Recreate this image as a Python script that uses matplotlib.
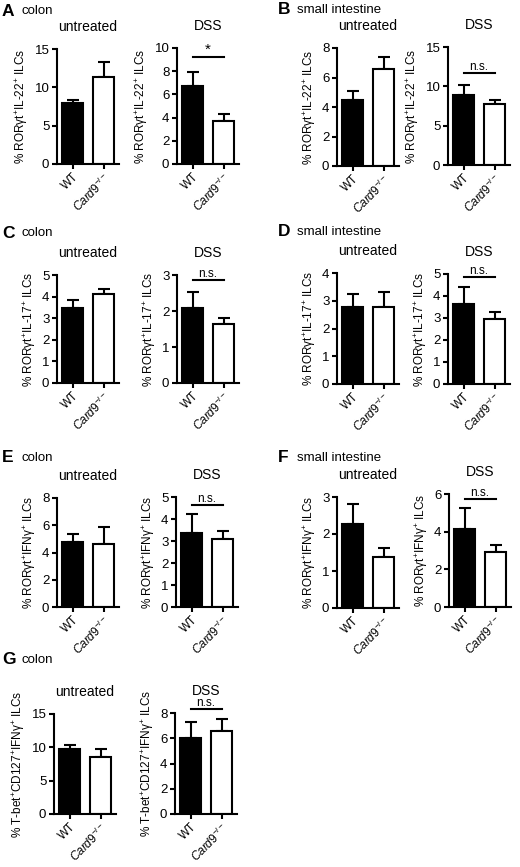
import matplotlib
matplotlib.use("Agg")
import matplotlib.pyplot as plt
import numpy as np

plt.rcParams['font.family'] = ['Liberation Sans', 'DejaVu Sans']
plt.rcParams['mathtext.fontset'] = 'custom'
plt.rcParams['mathtext.rm'] = 'Liberation Sans'
plt.rcParams['mathtext.it'] = 'Liberation Sans:italic'
plt.rcParams['mathtext.bf'] = 'Liberation Sans:bold'

groups = ["WT", r"$\mathit{Card9}^{-/-}$"]
conditions = ["untreated", "DSS"]

# means and upper SEM
A_unt_mean = [8.0, 11.3];  A_unt_err = [0.4, 2.0]
A_dss_mean = [6.7, 3.7];   A_dss_err = [1.2, 0.6]
B_unt_mean = [4.5, 6.6];   B_unt_err = [0.6, 0.8]
B_dss_mean = [8.9, 7.75];  B_dss_err = [1.3, 0.5]
C_unt_mean = [3.47, 4.12]; C_unt_err = [0.38, 0.23]
C_dss_mean = [2.08, 1.64]; C_dss_err = [0.46, 0.17]
D_unt_mean = [2.78, 2.78]; D_unt_err = [0.47, 0.52]
D_dss_mean = [3.64, 2.95]; D_dss_err = [0.77, 0.32]
E_unt_mean = [4.78, 4.6];  E_unt_err = [0.6, 1.28]
E_dss_mean = [3.36, 3.1];  E_dss_err = [0.86, 0.36]
F_unt_mean = [2.27, 1.38]; F_unt_err = [0.54, 0.24]
F_dss_mean = [4.15, 2.93]; F_dss_err = [1.1, 0.37]
G_unt_mean = [9.7, 8.6];   G_unt_err = [0.7, 1.1]
G_dss_mean = [6.05, 6.6];  G_dss_err = [1.25, 0.9]

yl_22 = "% RORγt$^{+}$IL-22$^{+}$ ILCs"
yl_17 = "% RORγt$^{+}$IL-17$^{+}$ ILCs"
yl_ifn = "% RORγt$^{+}$IFNγ$^{+}$ ILCs"
yl_tbet = "% T-bet$^{+}$CD127$^{+}$IFNγ$^{+}$ ILCs"

W, H = 520, 867
fig = plt.figure(figsize=(W / 100, H / 100), dpi=100)

def fx(x):
    return x / W

def fy(y):
    return 1 - y / H

def draw(x0, ytop, ybot, means, errs, ymax, ystep, ylabel, title, sig=None, sig_y=None):
    ax = fig.add_axes([fx(x0), fy(ybot), 62 / W, (ybot - ytop) / H])
    xs = np.arange(len(means))
    ax.bar(xs, means, width=0.7, color=['black', 'white'], edgecolor='black', linewidth=1.5, zorder=2)
    for x, m, e in zip(xs, means, errs):
        ax.errorbar([x], [m], yerr=[[0], [e]], fmt='none', ecolor='black', elinewidth=1.5,
                    capsize=4.5, capthick=1.5, zorder=1)
    ax.set_xlim(-0.5, 1.5)
    ax.set_ylim(0, ymax)
    ticks = np.arange(0, ymax + 0.001, ystep)
    ax.set_yticks(ticks)
    ax.set_yticklabels([f"{v:g}" for v in ticks])
    ax.set_xticks(xs)
    ax.set_xticklabels(groups, rotation=45, ha='right', rotation_mode='anchor')
    for s in ['top', 'right']:
        ax.spines[s].set_visible(False)
    for s in ['left', 'bottom']:
        ax.spines[s].set_linewidth(1.5)
    ax.tick_params(axis='both', width=1.5, length=3.5, colors='black')
    ax.tick_params(axis='y', labelsize=9.5, pad=2)
    ax.tick_params(axis='x', labelsize=8.5, pad=1)
    ax.set_ylabel(ylabel, fontsize=8.5, labelpad=3)
    pos = ax.get_position()
    fig.text(pos.x0 + pos.width / 2, fy(ytop - 22), title,
             ha='center', va='center', fontsize=10)
    if sig is not None:
        ax.plot([0, 1], [sig_y, sig_y], color='black', lw=1.5, clip_on=False)
        if sig == "*":
            ax.text(0.5, sig_y, "*", ha='center', va='bottom', fontsize=11, clip_on=False)
        else:
            ax.text(0.5, sig_y, sig, ha='center', va='bottom', fontsize=8.5, clip_on=False)
    return ax

def header(x, y, letter, tissue):
    fig.text(fx(x), fy(y), letter, fontsize=12.5, fontweight='bold', ha='left', va='center')
    fig.text(fx(x + 19), fy(y), tissue, fontsize=9.5, ha='left', va='center')

# Row 1
header(2, 11, "A", "colon")
draw(57, 49, 164, A_unt_mean, A_unt_err, 15, 5, yl_22, conditions[0])
draw(177, 48, 164, A_dss_mean, A_dss_err, 10, 2, yl_22, conditions[1], "*", 9.2)
header(278, 10, "B", "small intestine")
draw(337, 48, 166, B_unt_mean, B_unt_err, 8, 2, yl_22, conditions[0])
draw(448, 47, 165, B_dss_mean, B_dss_err, 15, 5, yl_22, conditions[1], "n.s.", 11.7)

# Row 2
header(2, 233, "C", "colon")
draw(57, 275, 383, C_unt_mean, C_unt_err, 5, 1, yl_17, conditions[0])
draw(177, 275, 383, C_dss_mean, C_dss_err, 3, 1, yl_17, conditions[1], "n.s.", 2.86)
header(278, 232, "D", "small intestine")
draw(337, 273, 384, D_unt_mean, D_unt_err, 4, 1, yl_17, conditions[0])
draw(448, 274, 384, D_dss_mean, D_dss_err, 5, 1, yl_17, conditions[1], "n.s.", 4.86)

# Row 3
header(2, 458, "E", "colon")
draw(57, 498, 607, E_unt_mean, E_unt_err, 8, 2, yl_ifn, conditions[0])
draw(176, 497, 607, E_dss_mean, E_dss_err, 5, 1, yl_ifn, conditions[1], "n.s.", 4.64)
header(278, 458, "F", "small intestine")
draw(337, 497, 608, F_unt_mean, F_unt_err, 3, 1, yl_ifn, conditions[0])
draw(449, 494, 607, F_dss_mean, F_dss_err, 6, 2, yl_ifn, conditions[1], "n.s.", 5.74)

# Row 4
header(2, 660, "G", "colon")
draw(54, 714, 814, G_unt_mean, G_unt_err, 15, 5, yl_tbet, conditions[0])
draw(175, 713, 814, G_dss_mean, G_dss_err, 8, 2, yl_tbet, conditions[1], "n.s.", 8.33)

fig.savefig("out.png", dpi=100)
